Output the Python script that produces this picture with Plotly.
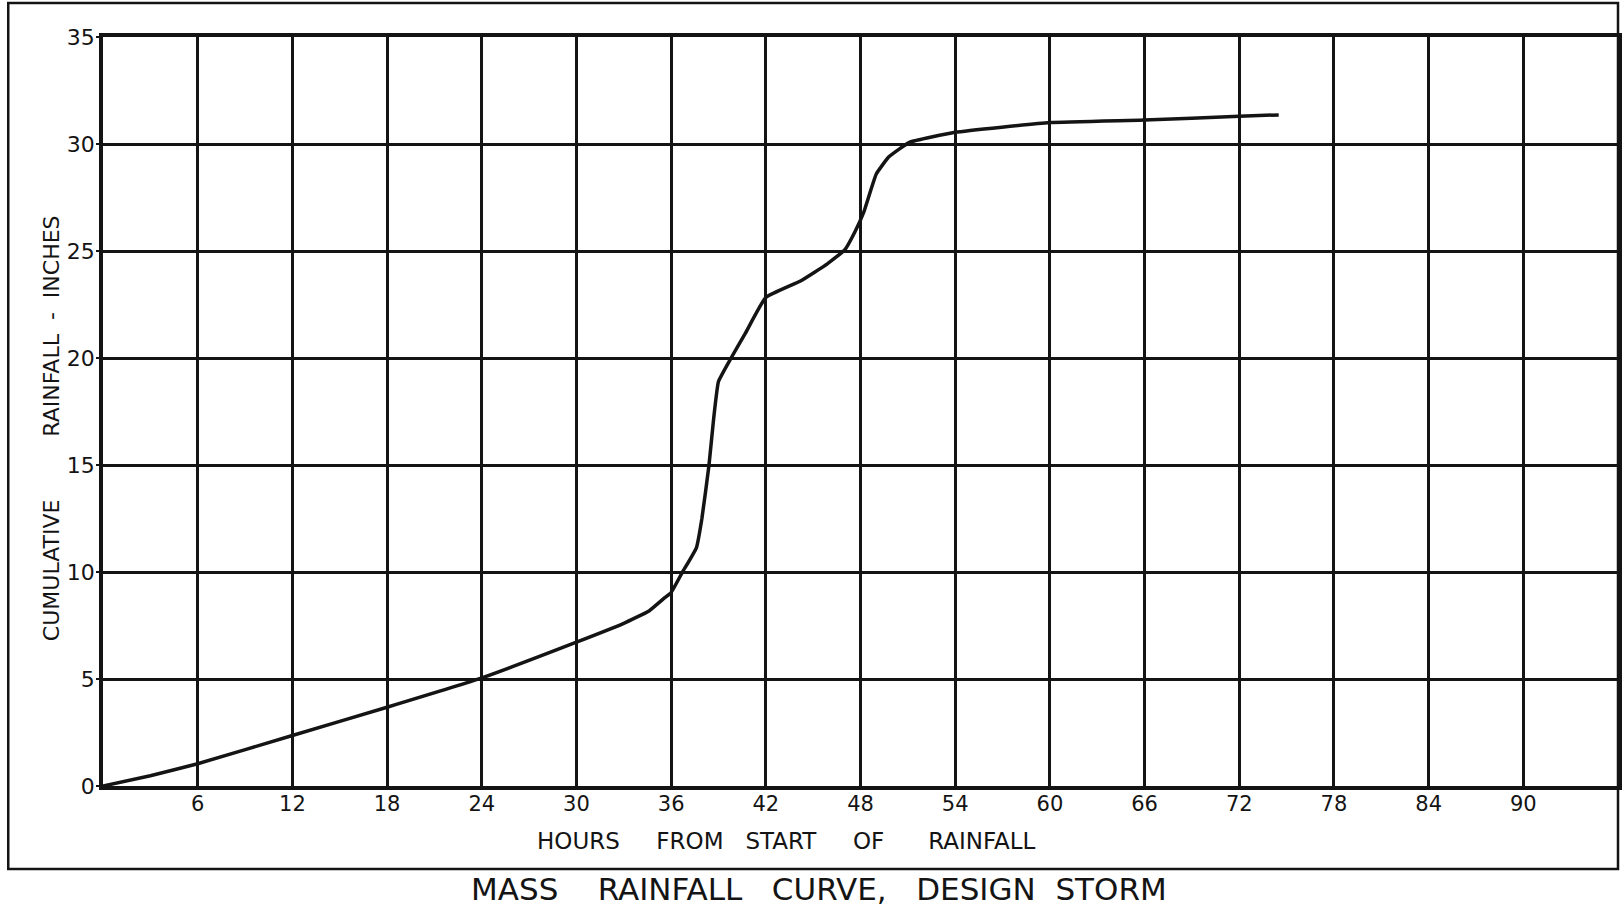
import plotly.graph_objects as go

# Mass rainfall curve, design storm
hours = [0, 3, 6, 12, 18, 24, 30, 33, 34.6, 35.6, 36, 36.7, 37.6, 37.95, 38.4, 38.7, 39.0,
         39.8, 40.7, 42, 44.2, 45.9, 47.0, 47.65, 48.2, 49.0, 49.8, 51.1, 54, 60, 66, 72, 74.5]
rainfall = [0, 0.48, 1.04, 2.36, 3.68, 5.05, 6.72, 7.6, 8.18, 8.8, 9.04, 9.97, 11.13, 12.5, 15.0, 17.2, 18.9,
            20.0, 21.15, 22.83, 23.6, 24.4, 25.05, 25.9, 26.8, 28.6, 29.4, 30.08, 30.55, 31.0, 31.12, 31.3, 31.36]

x_ticks = [6, 12, 18, 24, 30, 36, 42, 48, 54, 60, 66, 72, 78, 84, 90]
x_ticklabels = [str(v) for v in x_ticks]
y_ticks = [0, 5, 10, 15, 20, 25, 30, 35]
y_ticklabels = [str(v) for v in y_ticks]

title_text = "MASS    RAINFALL   CURVE,   DESIGN  STORM"
x_title = "HOURS     FROM   START     OF      RAINFALL"
y_title = "CUMULATIVE         RAINFALL  -  INCHES"

INK = "#141414"
FONT = "DejaVu Sans, Liberation Sans, Arial, sans-serif"

L, R, T, B = 103, 2, 37, 121
PW = 1624 - L - R
PH = 907 - T - B


def px(xp):
    return (xp - L) / PW


def py(yp):
    return (907 - B - yp) / PH


fig = go.Figure()
fig.add_trace(go.Scatter(
    x=hours, y=rainfall, mode="lines",
    line=dict(color=INK, width=3.5, shape="spline", smoothing=0.35),
    showlegend=False, hoverinfo="skip",
))

fig.update_layout(
    width=1624, height=907,
    margin=dict(l=L, r=R, t=T, b=B, pad=0),
    paper_bgcolor="white", plot_bgcolor="white",
    font=dict(family=FONT, color=INK, size=21),
    xaxis=dict(
        range=[0, 96], tickmode="array", tickvals=x_ticks, ticktext=x_ticklabels,
        showgrid=True, gridcolor=INK, gridwidth=2.5,
        showline=True, linecolor=INK, linewidth=3.5, mirror=True,
        ticks="", zeroline=False, ticklabelstandoff=-4,
        tickfont=dict(size=21, family=FONT, color=INK),
    ),
    yaxis=dict(
        range=[0, 35], tickmode="array", tickvals=y_ticks, ticktext=y_ticklabels,
        showgrid=True, gridcolor=INK, gridwidth=2.5,
        showline=True, linecolor=INK, linewidth=3.5, mirror=True,
        ticks="outside", ticklen=3, tickwidth=2, tickcolor=INK, zeroline=False,
        tickfont=dict(size=22, family=FONT, color=INK), ticklabelstandoff=-3,
    ),
    shapes=[dict(
        type="rect", xref="paper", yref="paper",
        x0=px(8), x1=1.0, y0=py(869), y1=py(3),
        line=dict(color=INK, width=2.5), layer="below",
    )],
    annotations=[
        dict(text=x_title, xref="paper", yref="paper", x=px(788), y=py(841),
             showarrow=False, xanchor="center", yanchor="middle",
             font=dict(size=23, family=FONT, color=INK)),
        dict(text=y_title, xref="paper", yref="paper", x=px(51), y=py(428),
             showarrow=False, xanchor="center", yanchor="middle", textangle=-90,
             font=dict(size=22, family=FONT, color=INK)),
        dict(text=title_text, xref="paper", yref="paper", x=px(821), y=py(889),
             showarrow=False, xanchor="center", yanchor="middle",
             font=dict(size=31, family=FONT, color=INK)),
    ],
)

fig.write_html("out.html", config={"displayModeBar": False},
               post_script="document.body.style.margin='0';document.body.style.overflow='hidden';")
